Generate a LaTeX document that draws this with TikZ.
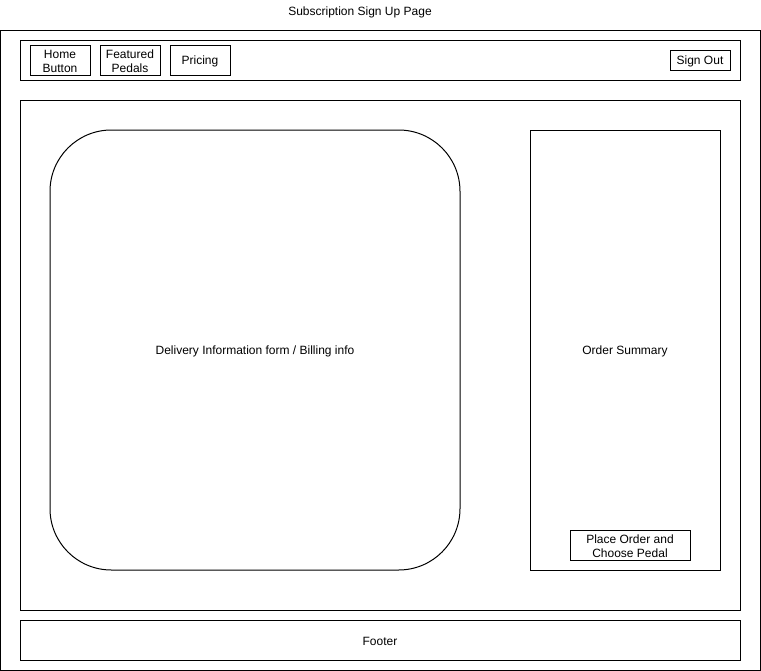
\documentclass[tikz,border=0pt]{standalone}
\usepackage{fontspec}
\setmainfont{Liberation Sans}
\begin{document}
\begin{tikzpicture}[x=0.75pt,y=-0.75pt,
  box/.style={draw=black,line width=0.75pt,fill=white,inner sep=0pt},
  lbl/.style={font=\fontsize{9}{10.5}\selectfont,align=center,inner sep=0pt,yshift=-1.2pt}]
\useasboundingbox (0,0) rectangle (761,671);
\node[lbl] (title) at (360,11) {Subscription Sign Up Page};
\draw[box] (0,30) rectangle (760,670);
% nav bar
\draw[box] (20,40) rectangle (740,80);
\draw[box] (30,45) rectangle (90,75);
\node[lbl] (home) at (60,60) {Home\\Button};
\draw[box] (100,45) rectangle (160,75);
\node[lbl] (feat) at (130,60) {Featured\\Pedals};
\draw[box] (170,45) rectangle (230,75);
\node[lbl] (pricing) at (200,60) {Pricing};
\draw[box] (670,50) rectangle (730,70);
\node[lbl] (signout) at (700,60) {Sign Out};
% main
\draw[box] (20,100) rectangle (740,610);
\draw[box,rounded corners=46pt] (50,130) rectangle (460,570);
\node[lbl] (form) at (255,350) {Delivery Information form / Billing info};
\draw[box] (530,130) rectangle (720,570);
\node[lbl] (summary) at (625,350) {Order Summary};
\draw[box] (570,530) rectangle (690,560);
\node[lbl] (place) at (630,545) {Place Order and\\Choose Pedal};
% footer
\draw[box] (20,620) rectangle (740,660);
\node[lbl] (footer) at (380,640) {Footer};
\end{tikzpicture}
\end{document}
